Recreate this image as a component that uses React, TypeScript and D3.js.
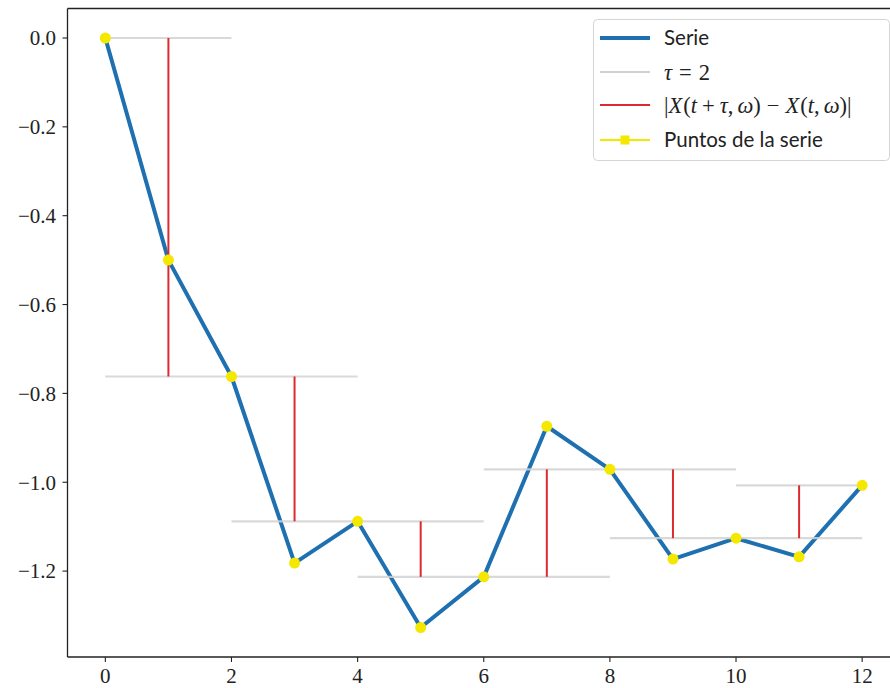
import React from "react";
import * as d3 from "d3";

const times: number[] = [0, 1, 2, 3, 4, 5, 6, 7, 8, 9, 10, 11, 12];
const serie: number[] = [0, -0.5, -0.762, -1.182, -1.088, -1.327, -1.213, -0.874, -0.971, -1.173, -1.126, -1.168, -1.007];
const tau = 2;
const xTicks: number[] = [0, 2, 4, 6, 8, 10, 12];
const yTicks: number[] = [0, -0.2, -0.4, -0.6, -0.8, -1.0, -1.2];

const W = 890;
const H = 688;
const left = 67.5;
const top = 8.5;
const bottom = 657;
const right = 900;

const BLUE = "#1f70b0";
const GREY = "#d2d2d2";
const RED = "#dd2a30";
const YELLOW = "#f4e800";
const SERIF = "'Liberation Serif', 'DejaVu Serif', serif";
const SANS = "Lato, 'Open Sans', 'DejaVu Sans', sans-serif";

export default function App() {
  const x = d3.scaleLinear().domain([-0.6, 12.6]).range([left, right]);
  const y = d3.scaleLinear().domain([0.0664, -1.3934]).range([top, bottom]);

  const line = d3
    .line<number>()
    .x((_, i) => x(times[i]))
    .y((d) => y(d));

  const greys: { x1: number; x2: number; v: number }[] = [];
  const reds: { t: number; a: number; b: number }[] = [];
  for (let i = 0; i + tau < serie.length; i += tau) {
    greys.push({ x1: times[i], x2: times[i + tau], v: serie[i] });
    greys.push({ x1: times[i], x2: times[i + tau], v: serie[i + tau] });
    reds.push({ t: times[i] + tau / 2, a: serie[i], b: serie[i + tau] });
  }

  const fmt = (v: number) => d3.format(".1f")(v).replace("-", "\u2212");

  const lx0 = 600;
  const lx1 = 650;
  const ltx = 664;
  const rows = [38, 72, 105, 140];

  return (
    <svg
      width={W}
      height={H}
      style={{ position: "absolute", left: 0, top: 0, background: "#fff" }}
    >
      <rect x={0} y={0} width={W} height={H} fill="#fff" />
      <path d={line(serie) || ""} fill="none" stroke={BLUE} strokeWidth={4} strokeLinejoin="round" />
      {greys.map((g, i) => (
        <line
          key={"g" + i}
          x1={x(g.x1)}
          x2={x(g.x2)}
          y1={y(g.v)}
          y2={y(g.v)}
          stroke={GREY}
          strokeOpacity={0.85}
          strokeWidth={2.2}
        />
      ))}
      {reds.map((r, i) => (
        <line
          key={"r" + i}
          x1={x(r.t)}
          x2={x(r.t)}
          y1={y(r.a)}
          y2={y(r.b)}
          stroke={RED}
          strokeWidth={2}
        />
      ))}
      {serie.map((v, i) => (
        <circle key={"p" + i} cx={x(times[i])} cy={y(v)} r={5.5} fill={YELLOW} />
      ))}

      <line x1={left} x2={left} y1={top} y2={bottom} stroke="#222" strokeWidth={1.3} />
      <line x1={left} x2={right} y1={top} y2={top} stroke="#222" strokeWidth={1.3} />
      <line x1={left} x2={right} y1={bottom} y2={bottom} stroke="#222" strokeWidth={1.3} />

      {yTicks.map((t) => (
        <g key={"yt" + t}>
          <line x1={left - 5} x2={left} y1={y(t)} y2={y(t)} stroke="#222" strokeWidth={1.1} />
          <text
            x={56}
            y={y(t)}
            dy="0.35em"
            textAnchor="end"
            fontFamily={SERIF}
            fontSize={21}
            fill="#222"
          >
            {fmt(t)}
          </text>
        </g>
      ))}
      {xTicks.map((t) => (
        <g key={"xt" + t}>
          <line x1={x(t)} x2={x(t)} y1={bottom} y2={bottom + 5} stroke="#222" strokeWidth={1.1} />
          <text
            x={x(t)}
            y={683}
            textAnchor="middle"
            fontFamily={SERIF}
            fontSize={21}
            fill="#222"
          >
            {String(t)}
          </text>
        </g>
      ))}

      <rect
        x={593.5}
        y={19.5}
        width={296}
        height={141}
        rx={4}
        fill="#fff"
        fillOpacity={0.85}
        stroke="#d4d4d4"
        strokeWidth={1}
      />
      <line x1={lx0} x2={lx1} y1={rows[0]} y2={rows[0]} stroke={BLUE} strokeWidth={4} />
      <text x={ltx} y={rows[0]} dy="0.35em" fontFamily={SANS} fontSize={20.5} fill="#222">
        Serie
      </text>
      <line x1={lx0} x2={lx1} y1={rows[1]} y2={rows[1]} stroke={GREY} strokeWidth={2.2} />
      <text x={ltx} y={rows[1]} dy="0.35em" fontFamily={SERIF} fontSize={22.5} fill="#222">
        <tspan fontStyle="italic">τ</tspan>
        <tspan dx={7}>=</tspan>
        <tspan dx={7}>2</tspan>
      </text>
      <line x1={lx0} x2={lx1} y1={rows[2]} y2={rows[2]} stroke={RED} strokeWidth={2} />
      <text x={ltx} y={rows[2]} dy="0.35em" fontFamily={SERIF} fontSize={22.5} fill="#222">
        <tspan>|</tspan>
        <tspan fontStyle="italic">X</tspan>
        <tspan dx={1}>(</tspan>
        <tspan fontStyle="italic">t</tspan>
        <tspan dx={5}>+</tspan>
        <tspan dx={5} fontStyle="italic">τ</tspan>
        <tspan>,</tspan>
        <tspan dx={4} fontStyle="italic">ω</tspan>
        <tspan>)</tspan>
        <tspan dx={6}>−</tspan>
        <tspan dx={6} fontStyle="italic">X</tspan>
        <tspan dx={1}>(</tspan>
        <tspan fontStyle="italic">t</tspan>
        <tspan>,</tspan>
        <tspan dx={4} fontStyle="italic">ω</tspan>
        <tspan>)|</tspan>
      </text>
      <line x1={lx0} x2={lx1} y1={rows[3]} y2={rows[3]} stroke={YELLOW} strokeWidth={2} />
      <rect x={(lx0 + lx1) / 2 - 4.5} y={rows[3] - 4.5} width={9} height={9} fill={YELLOW} />
      <text x={ltx} y={rows[3]} dy="0.35em" fontFamily={SANS} fontSize={20.5} fill="#222">
        Puntos de la serie
      </text>
    </svg>
  );
}
